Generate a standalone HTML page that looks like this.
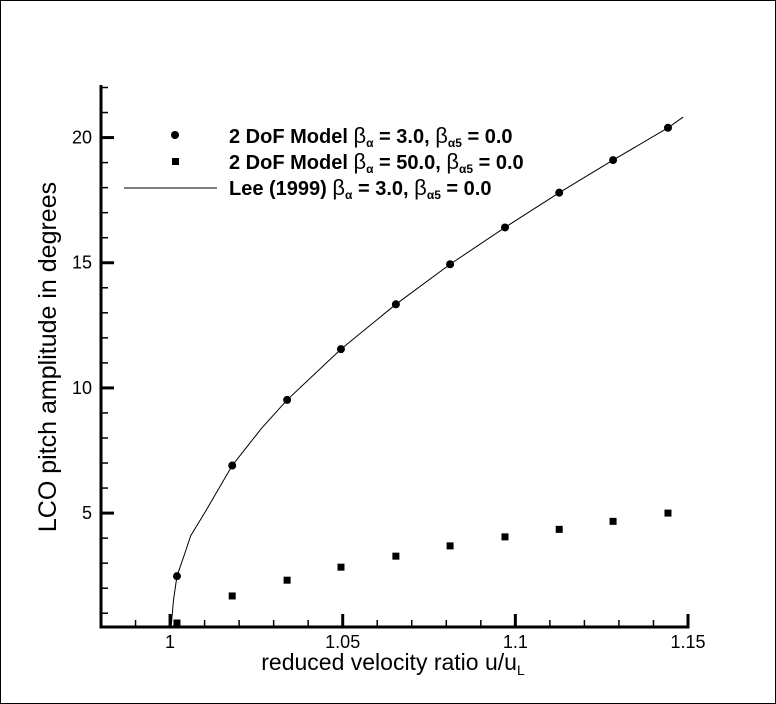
<!DOCTYPE html>
<html><head><meta charset="utf-8"><style>
html,body{margin:0;padding:0;background:#fff}
svg{display:block}
text{font-family:"Liberation Sans",sans-serif;fill:#000}
</style></head><body>
<svg id="chart" width="776" height="704" viewBox="0 0 776 704" xmlns="http://www.w3.org/2000/svg">
<rect x="0.5" y="0.5" width="775" height="703" fill="#fff" stroke="#000" stroke-width="1"/>
<g id="plot"></g>
</svg>
<script>
const circleX=[1.002,1.018,1.0339,1.0495,1.0654,1.0811,1.097,1.1127,1.1283,1.1442];
const circleY=[2.48,6.9,9.52,11.55,13.34,14.94,16.41,17.8,19.1,20.39];
const squareX=[1.002,1.018,1.0339,1.0495,1.0654,1.0811,1.097,1.1127,1.1283,1.1442];
const squareY=[0.61,1.69,2.32,2.84,3.28,3.69,4.05,4.35,4.67,5.0];
const leeX=[1.0003,1.001,1.002,1.0043,1.006,1.0104,1.018,1.0264,1.0339,1.0495,1.0654,1.0811,1.097,1.1127,1.1283,1.1442,1.1486];
const leeY=[0.45,1.53,2.48,3.4,4.1,5.1,6.9,8.37,9.52,11.55,13.34,14.94,16.41,17.8,19.1,20.39,20.82];
const xTicks=[1,1.05,1.1,1.15];
const xTickLabels=["1","1.05","1.1","1.15"];
const yTicks=[5,10,15,20];
const yTickLabels=["5","10","15","20"];

const X0=0.98,X1=1.15,Y0=0.45,Y1=22.1;
const L=101,R=688,T=85,B=627;
const sx=v=>L+(v-X0)/(X1-X0)*(R-L);
const sy=v=>B-(v-Y0)/(Y1-Y0)*(B-T);
const NS="http://www.w3.org/2000/svg";
const g=document.getElementById('plot');
function mk(tag,attrs){const e=document.createElementNS(NS,tag);for(const k in attrs)e.setAttribute(k,attrs[k]);g.appendChild(e);return e;}

for(let i=0;i<=17;i++){const v=X0+i*0.01;const x=sx(v);const major=xTicks.some(t=>Math.abs(t-v)<1e-6);
 const t=mk('line',{x1:x,y1:B,x2:x,y2:B-(major?13:7),stroke:'#000','stroke-width':major?3:1.5});
 
 }
for(let v=1;v<=22;v++){const y=sy(v);const major=yTicks.includes(v);
 const t=mk('line',{x1:L,y1:y,x2:L+(major?13:7),y2:y,stroke:'#000','stroke-width':major?3:1.5});
 
 }
xTicks.forEach((v,i)=>{const t=mk('text',{x:sx(v),y:B+21,'text-anchor':'middle','font-size':'18'});t.textContent=xTickLabels[i];
 
 });
yTicks.forEach((v,i)=>{const t=mk('text',{x:L-9,y:sy(v)+6,'text-anchor':'end','font-size':'18'});t.textContent=yTickLabels[i];
 
 });

const ax=mk('path',{d:`M${L},${T} L${L},${B} L${R},${B} L${R},${B-13}`,fill:'none',stroke:'#000','stroke-width':3});



const lp=mk('polyline',{points:leeX.map((x,i)=>sx(x)+','+sy(leeY[i])).join(' '),fill:'none',stroke:'#000','stroke-width':1});


circleX.forEach((x,i)=>{const c=mk('circle',{cx:sx(x),cy:sy(circleY[i]),r:4,fill:'#000'});
 
 });
squareX.forEach((x,i)=>{const r=mk('rect',{x:sx(x)-3.5,y:sy(squareY[i])-3.5,width:7,height:7,fill:'#000'});
 
 });
</script>
<svg style="position:absolute;left:0;top:0" width="776" height="704">
<g>
<circle cx="175" cy="135" r="4" fill="#000"/>
<text x="229" y="143" font-weight="bold" font-size="20">2 DoF Model <tspan font-weight="normal" font-size="22">β</tspan><tspan font-size="12" dy="4">α</tspan><tspan dy="-4"> = 3.0, </tspan><tspan font-weight="normal" font-size="22">β</tspan><tspan font-size="12" dy="4">α5</tspan><tspan dy="-4"> = 0.0</tspan></text>
<rect x="172" y="158" width="7" height="7" fill="#000"/>
<text x="229" y="169" font-weight="bold" font-size="20">2 DoF Model <tspan font-weight="normal" font-size="22">β</tspan><tspan font-size="12" dy="4">α</tspan><tspan dy="-4"> = 50.0, </tspan><tspan font-weight="normal" font-size="22">β</tspan><tspan font-size="12" dy="4">α5</tspan><tspan dy="-4"> = 0.0</tspan></text>
<line x1="124" y1="188" x2="217" y2="188" stroke="#000" stroke-width="1"/>
<text x="229" y="195" font-weight="bold" font-size="20">Lee (1999) <tspan font-weight="normal" font-size="22">β</tspan><tspan font-size="12" dy="4">α</tspan><tspan dy="-4"> = 3.0, </tspan><tspan font-weight="normal" font-size="22">β</tspan><tspan font-size="12" dy="4">α5</tspan><tspan dy="-4"> = 0.0</tspan></text>
</g>
<text x="393" y="670" text-anchor="middle" font-size="23">reduced velocity ratio u/u<tspan font-size="14" dy="5">L</tspan></text>
<text transform="translate(56,357) rotate(-90)" text-anchor="middle" font-size="25">LCO pitch amplitude in degrees</text>
</svg>
</body></html>
